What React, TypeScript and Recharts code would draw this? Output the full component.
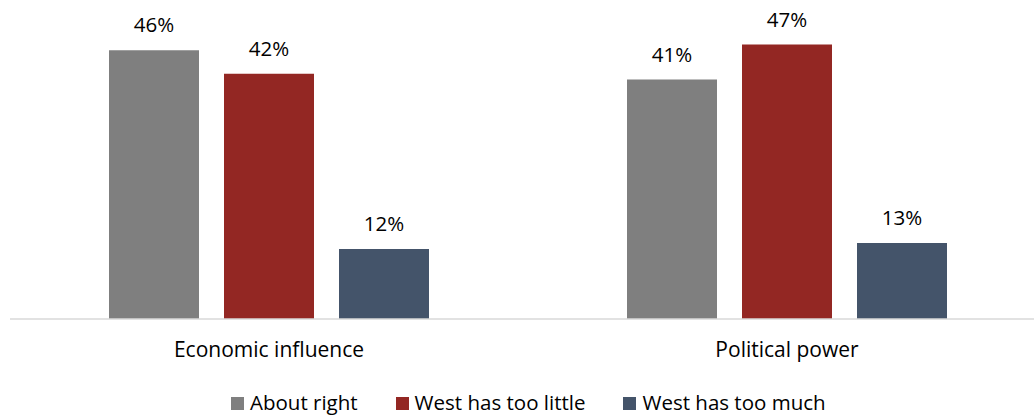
import React from 'react';
import { BarChart, Bar, XAxis, YAxis, LabelList } from 'recharts';

const categories = ['Economic influence', 'Political power'];
const aboutRight = [46, 41];
const westTooLittle = [42, 47];
const westTooMuch = [12, 13];

const series = [
  { key: 'aboutRight', name: 'About right', color: '#7F7F7F' },
  { key: 'westTooLittle', name: 'West has too little', color: '#932723' },
  { key: 'westTooMuch', name: 'West has too much', color: '#44546A' },
];

const data = categories.map((c, i) => ({
  category: c,
  aboutRight: aboutRight[i],
  westTooLittle: westTooLittle[i],
  westTooMuch: westTooMuch[i],
}));

const FONT = '"Open Sans", Lato, sans-serif';
const FS = 20.5;

const CategoryTick = (props: any) => {
  const { x, y, payload } = props;
  return (
    <text x={x} y={y} dy={38} textAnchor="middle" fontSize={21} fill="#000" fontFamily={FONT}>
      {payload.value}
    </text>
  );
};

const ChartLegend = () => (
  <div
    style={{
      position: 'absolute',
      left: 231,
      top: 390,
      display: 'flex',
      alignItems: 'center',
      fontFamily: FONT,
      fontSize: FS,
      lineHeight: '24px',
      height: 24,
      color: '#000',
      whiteSpace: 'nowrap',
    }}
  >
    {series.map((s) => (
      <div key={s.key} style={{ display: 'flex', alignItems: 'center', marginRight: 38 }}>
        <span style={{ display: 'inline-block', width: 13, height: 13, background: s.color, marginRight: 6, marginTop: 3 }} />
        <span>{s.name}</span>
      </div>
    ))}
  </div>
);

export default function App() {
  return (
    <div style={{ position: 'absolute', left: 0, top: 0, width: 1034, height: 415, overflow: 'hidden', background: '#fff' }}>
      <BarChart
        width={1060}
        height={415}
        data={data}
        margin={{ top: 27, right: 14, left: 10, bottom: 0 }}
        barSize={90}
        barGap={25}
      >
        <XAxis
          dataKey="category"
          height={96}
          axisLine={{ stroke: '#D9D9D9', strokeWidth: 1.5 }}
          tickLine={false}
          tickSize={0}
          tickMargin={0}
          tick={<CategoryTick />}
          interval={0}
        />
        <YAxis hide domain={[0, 50]} />
        {series.map((s) => (
          <Bar key={s.key} dataKey={s.key} name={s.name} fill={s.color} isAnimationActive={false}>
            <LabelList
              dataKey={s.key}
              position="top"
              offset={18}
              formatter={(v: any) => `${v}%`}
              style={{ fontSize: FS, fontFamily: FONT, fill: '#000' }}
            />
          </Bar>
        ))}
      </BarChart>
      <ChartLegend />
    </div>
  );
}
